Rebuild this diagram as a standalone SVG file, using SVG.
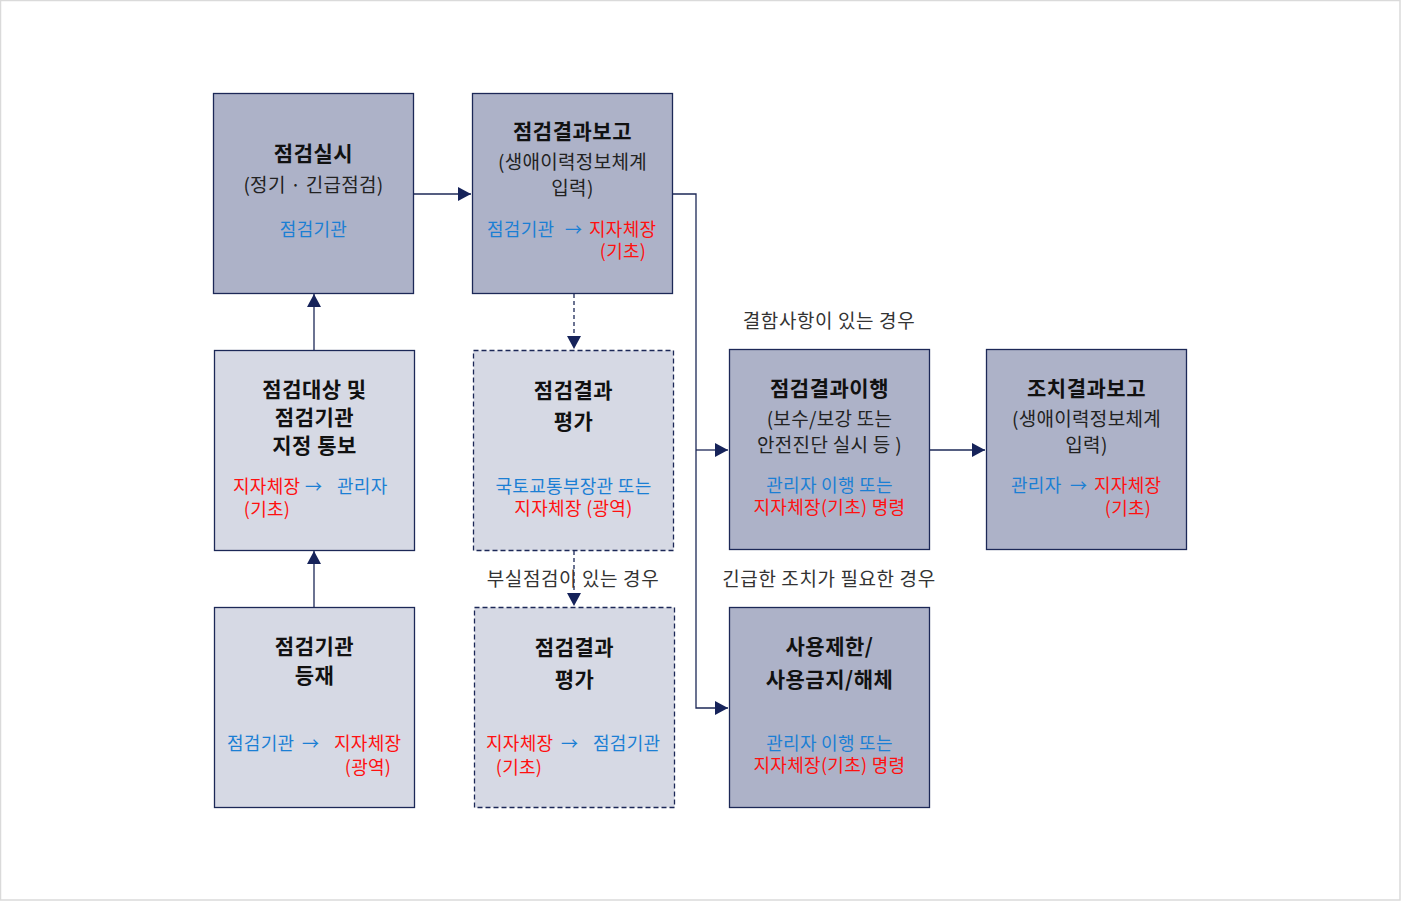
<svg xmlns="http://www.w3.org/2000/svg" width="1401" height="901" viewBox="0 0 1401 901">
<style>
text{font-family:"Noto Sans CJK KR","Noto Sans",sans-serif;}
.box{stroke:#1c2857;stroke-width:1.3;}
.dark{fill:#adb2c8;}
.light{fill:#d6d9e4;}
.dash{stroke-dasharray:5,3;}
.t{font-size:21px;font-weight:700;fill:#111;text-anchor:middle;letter-spacing:0.5px;}
.s{font-size:19px;fill:#222;text-anchor:middle;letter-spacing:0.3px;}
.b{font-size:18px;fill:#1b7fd4;letter-spacing:0.3px;}
.r{font-size:18px;fill:#ff1010;letter-spacing:0.3px;}
.a{font-size:17px;fill:#1b7fd4;}
.c{text-anchor:middle;}
.lbl{font-size:19px;fill:#333;text-anchor:middle;letter-spacing:0.6px;}
.ln{fill:none;stroke:#1c2857;stroke-width:1.3;}
</style>
<defs>
<marker id="ah" markerUnits="userSpaceOnUse" markerWidth="14" markerHeight="14" refX="13" refY="7" orient="auto">
<path d="M0,0 L13,7 L0,14 z" fill="#16235a"/>
</marker>
</defs>
<rect x="0.5" y="0.5" width="1399.5" height="899.5" fill="#fff" stroke="#dadada" stroke-width="1.5"/>

<g id="connectors">
<path class="ln" d="M413,194 H471" marker-end="url(#ah)"/>
<path class="ln" d="M314,350 V294" marker-end="url(#ah)"/>
<path class="ln" d="M314,607 V551" marker-end="url(#ah)"/>
<path class="ln" d="M574,294 V349" stroke-dasharray="4,3" marker-end="url(#ah)"/>
<path class="ln" d="M574,551 V606" stroke-dasharray="4,3" marker-end="url(#ah)"/>
<path class="ln" d="M672,194 H696 V708 H728" marker-end="url(#ah)"/>
<path class="ln" d="M696,450 H728" marker-end="url(#ah)"/>
<path class="ln" d="M929,450 H985" marker-end="url(#ah)"/>
<text class="lbl" x="829" y="328">결함사항이 있는 경우</text>
<text class="lbl" x="573" y="586">부실점검이 있는 경우</text>
<text class="lbl" x="829" y="586">긴급한 조치가 필요한 경우</text>
</g>

<g id="node-inspection">
<rect class="box dark" x="213.5" y="93.5" width="200" height="200"/>
<text class="t" x="313.5" y="161">점검실시</text>
<text class="s" x="313.5" y="192">(정기 · 긴급점검)</text>
<text class="b c" x="313.5" y="236">점검기관</text>
</g>

<g id="node-report">
<rect class="box dark" x="472.5" y="93.5" width="200" height="200"/>
<text class="t" x="572.5" y="139">점검결과보고</text>
<text class="s" x="572.5" y="169">(생애이력정보체계</text>
<text class="s" x="572.5" y="195">입력)</text>
<text class="b" x="487" y="236">점검기관</text>
<text class="a" x="565" y="236">→</text>
<text class="r" x="589" y="236">지자체장</text>
<text class="r c" x="623" y="258">(기초)</text>
</g>

<g id="node-designation">
<rect class="box light" x="214.5" y="350.5" width="200" height="200"/>
<text class="t" x="314.5" y="397">점검대상 및</text>
<text class="t" x="314.5" y="425">점검기관</text>
<text class="t" x="314.5" y="453">지정 통보</text>
<text class="r" x="233" y="493">지자체장</text>
<text class="a" x="305" y="493">→</text>
<text class="b" x="337" y="493">관리자</text>
<text class="r c" x="267" y="516">(기초)</text>
</g>

<g id="node-evaluation1">
<rect class="box light dash" x="473.5" y="350.5" width="200" height="200"/>
<text class="t" x="573.5" y="398">점검결과</text>
<text class="t" x="573.5" y="429">평가</text>
<text class="b c" x="573.5" y="493">국토교통부장관 또는</text>
<text class="r c" x="573.5" y="515">지자체장 (광역)</text>
</g>

<g id="node-registration">
<rect class="box light" x="214.5" y="607.5" width="200" height="200"/>
<text class="t" x="314.5" y="654">점검기관</text>
<text class="t" x="314.5" y="683">등재</text>
<text class="b" x="227" y="750">점검기관</text>
<text class="a" x="302" y="750">→</text>
<text class="r" x="334" y="750">지자체장</text>
<text class="r c" x="368" y="774">(광역)</text>
</g>

<g id="node-evaluation2">
<rect class="box light dash" x="474.5" y="607.5" width="200" height="200"/>
<text class="t" x="574.5" y="655">점검결과</text>
<text class="t" x="574.5" y="687">평가</text>
<text class="r" x="486" y="750">지자체장</text>
<text class="a" x="561" y="750">→</text>
<text class="b" x="593" y="750">점검기관</text>
<text class="r c" x="519" y="774">(기초)</text>
</g>

<g id="node-execution">
<rect class="box dark" x="729.5" y="349.5" width="200" height="200"/>
<text class="t" x="829.5" y="396">점검결과이행</text>
<text class="s" x="829.5" y="426">(보수/보강 또는</text>
<text class="s" x="829.5" y="452">안전진단 실시 등 )</text>
<text class="b c" x="829.5" y="492">관리자 이행 또는</text>
<text class="r c" x="829.5" y="514">지자체장(기초) 명령</text>
</g>

<g id="node-action-report">
<rect class="box dark" x="986.5" y="349.5" width="200" height="200"/>
<text class="t" x="1086.5" y="396">조치결과보고</text>
<text class="s" x="1086.5" y="426">(생애이력정보체계</text>
<text class="s" x="1086.5" y="452">입력)</text>
<text class="b" x="1011" y="492">관리자</text>
<text class="a" x="1070" y="492">→</text>
<text class="r" x="1094" y="492">지자체장</text>
<text class="r c" x="1128" y="515">(기초)</text>
</g>

<g id="node-restriction">
<rect class="box dark" x="729.5" y="607.5" width="200" height="200"/>
<text class="t" x="829.5" y="654">사용제한/</text>
<text class="t" x="829.5" y="687">사용금지/해체</text>
<text class="b c" x="829.5" y="750">관리자 이행 또는</text>
<text class="r c" x="829.5" y="772">지자체장(기초) 명령</text>
</g>
</svg>
